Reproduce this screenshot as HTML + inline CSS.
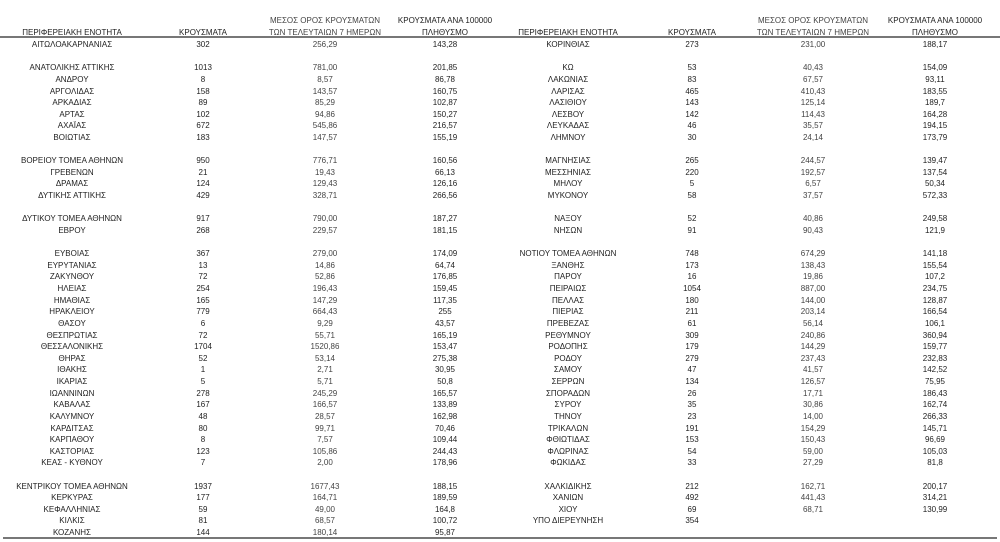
<!DOCTYPE html>
<html><head><meta charset="utf-8">
<style>
html,body{margin:0;padding:0;background:#fff;}
body{width:1000px;height:542px;position:relative;overflow:hidden;font-family:"Liberation Sans","DejaVu Sans",sans-serif;font-size:8px;color:#222;}
.r{position:absolute;left:0;width:1000px;height:12px;line-height:12px;margin-top:2px;}
.r span,.h span{position:absolute;width:140px;text-align:center;white-space:nowrap;}
.a{left:2px}.b{left:133px}.c{left:255px}.d{left:375px}
.e{left:498px}.f{left:622px}.g{left:743px}.k{left:865px}
.c,.g{color:#444}
.h{position:absolute;left:0;width:1000px;height:12px;line-height:12px;}
.line{position:absolute;left:0;width:1000px;height:2px;background:#777;}
</style></head><body>
<div class="h" style="top:15px"><span class="c">ΜΕΣΟΣ ΟΡΟΣ ΚΡΟΥΣΜΑΤΩΝ</span><span class="d">ΚΡΟΥΣΜΑΤΑ ΑΝΑ 100000</span><span class="g">ΜΕΣΟΣ ΟΡΟΣ ΚΡΟΥΣΜΑΤΩΝ</span><span class="k">ΚΡΟΥΣΜΑΤΑ ΑΝΑ 100000</span></div>
<div class="h" style="top:27px"><span class="a">ΠΕΡΙΦΕΡΕΙΑΚΗ ΕΝΟΤΗΤΑ</span><span class="b">ΚΡΟΥΣΜΑΤΑ</span><span class="c">ΤΩΝ ΤΕΛΕΥΤΑΙΩΝ 7 ΗΜΕΡΩΝ</span><span class="d">ΠΛΗΘΥΣΜΟ</span><span class="e">ΠΕΡΙΦΕΡΕΙΑΚΗ ΕΝΟΤΗΤΑ</span><span class="f">ΚΡΟΥΣΜΑΤΑ</span><span class="g">ΤΩΝ ΤΕΛΕΥΤΑΙΩΝ 7 ΗΜΕΡΩΝ</span><span class="k">ΠΛΗΘΥΣΜΟ</span></div>
<div class="line" style="top:36px"></div>

<div class="r" style="top:37.0px"><span class="a">ΑΙΤΩΛΟΑΚΑΡΝΑΝΙΑΣ</span><span class="b">302</span><span class="c">256,29</span><span class="d">143,28</span><span class="e">ΚΟΡΙΝΘΙΑΣ</span><span class="f">273</span><span class="g">231,00</span><span class="k">188,17</span></div>
<div class="r" style="top:60.2px"><span class="a">ΑΝΑΤΟΛΙΚΗΣ ΑΤΤΙΚΗΣ</span><span class="b">1013</span><span class="c">781,00</span><span class="d">201,85</span><span class="e">ΚΩ</span><span class="f">53</span><span class="g">40,43</span><span class="k">154,09</span></div>
<div class="r" style="top:71.9px"><span class="a">ΑΝΔΡΟΥ</span><span class="b">8</span><span class="c">8,57</span><span class="d">86,78</span><span class="e">ΛΑΚΩΝΙΑΣ</span><span class="f">83</span><span class="g">67,57</span><span class="k">93,11</span></div>
<div class="r" style="top:83.5px"><span class="a">ΑΡΓΟΛΙΔΑΣ</span><span class="b">158</span><span class="c">143,57</span><span class="d">160,75</span><span class="e">ΛΑΡΙΣΑΣ</span><span class="f">465</span><span class="g">410,43</span><span class="k">183,55</span></div>
<div class="r" style="top:95.1px"><span class="a">ΑΡΚΑΔΙΑΣ</span><span class="b">89</span><span class="c">85,29</span><span class="d">102,87</span><span class="e">ΛΑΣΙΘΙΟΥ</span><span class="f">143</span><span class="g">125,14</span><span class="k">189,7</span></div>
<div class="r" style="top:106.7px"><span class="a">ΑΡΤΑΣ</span><span class="b">102</span><span class="c">94,86</span><span class="d">150,27</span><span class="e">ΛΕΣΒΟΥ</span><span class="f">142</span><span class="g">114,43</span><span class="k">164,28</span></div>
<div class="r" style="top:118.3px"><span class="a">ΑΧΑΪΑΣ</span><span class="b">672</span><span class="c">545,86</span><span class="d">216,57</span><span class="e">ΛΕΥΚΑΔΑΣ</span><span class="f">46</span><span class="g">35,57</span><span class="k">194,15</span></div>
<div class="r" style="top:130.0px"><span class="a">ΒΟΙΩΤΙΑΣ</span><span class="b">183</span><span class="c">147,57</span><span class="d">155,19</span><span class="e">ΛΗΜΝΟΥ</span><span class="f">30</span><span class="g">24,14</span><span class="k">173,79</span></div>
<div class="r" style="top:153.2px"><span class="a">ΒΟΡΕΙΟΥ ΤΟΜΕΑ ΑΘΗΝΩΝ</span><span class="b">950</span><span class="c">776,71</span><span class="d">160,56</span><span class="e">ΜΑΓΝΗΣΙΑΣ</span><span class="f">265</span><span class="g">244,57</span><span class="k">139,47</span></div>
<div class="r" style="top:164.8px"><span class="a">ΓΡΕΒΕΝΩΝ</span><span class="b">21</span><span class="c">19,43</span><span class="d">66,13</span><span class="e">ΜΕΣΣΗΝΙΑΣ</span><span class="f">220</span><span class="g">192,57</span><span class="k">137,54</span></div>
<div class="r" style="top:176.4px"><span class="a">ΔΡΑΜΑΣ</span><span class="b">124</span><span class="c">129,43</span><span class="d">126,16</span><span class="e">ΜΗΛΟΥ</span><span class="f">5</span><span class="g">6,57</span><span class="k">50,34</span></div>
<div class="r" style="top:188.1px"><span class="a">ΔΥΤΙΚΗΣ ΑΤΤΙΚΗΣ</span><span class="b">429</span><span class="c">328,71</span><span class="d">266,56</span><span class="e">ΜΥΚΟΝΟΥ</span><span class="f">58</span><span class="g">37,57</span><span class="k">572,33</span></div>
<div class="r" style="top:211.3px"><span class="a">ΔΥΤΙΚΟΥ ΤΟΜΕΑ ΑΘΗΝΩΝ</span><span class="b">917</span><span class="c">790,00</span><span class="d">187,27</span><span class="e">ΝΑΞΟΥ</span><span class="f">52</span><span class="g">40,86</span><span class="k">249,58</span></div>
<div class="r" style="top:222.9px"><span class="a">ΕΒΡΟΥ</span><span class="b">268</span><span class="c">229,57</span><span class="d">181,15</span><span class="e">ΝΗΣΩΝ</span><span class="f">91</span><span class="g">90,43</span><span class="k">121,9</span></div>
<div class="r" style="top:246.2px"><span class="a">ΕΥΒΟΙΑΣ</span><span class="b">367</span><span class="c">279,00</span><span class="d">174,09</span><span class="e">ΝΟΤΙΟΥ ΤΟΜΕΑ ΑΘΗΝΩΝ</span><span class="f">748</span><span class="g">674,29</span><span class="k">141,18</span></div>
<div class="r" style="top:257.8px"><span class="a">ΕΥΡΥΤΑΝΙΑΣ</span><span class="b">13</span><span class="c">14,86</span><span class="d">64,74</span><span class="e">ΞΑΝΘΗΣ</span><span class="f">173</span><span class="g">138,43</span><span class="k">155,54</span></div>
<div class="r" style="top:269.4px"><span class="a">ΖΑΚΥΝΘΟΥ</span><span class="b">72</span><span class="c">52,86</span><span class="d">176,85</span><span class="e">ΠΑΡΟΥ</span><span class="f">16</span><span class="g">19,86</span><span class="k">107,2</span></div>
<div class="r" style="top:281.0px"><span class="a">ΗΛΕΙΑΣ</span><span class="b">254</span><span class="c">196,43</span><span class="d">159,45</span><span class="e">ΠΕΙΡΑΙΩΣ</span><span class="f">1054</span><span class="g">887,00</span><span class="k">234,75</span></div>
<div class="r" style="top:292.6px"><span class="a">ΗΜΑΘΙΑΣ</span><span class="b">165</span><span class="c">147,29</span><span class="d">117,35</span><span class="e">ΠΕΛΛΑΣ</span><span class="f">180</span><span class="g">144,00</span><span class="k">128,87</span></div>
<div class="r" style="top:304.3px"><span class="a">ΗΡΑΚΛΕΙΟΥ</span><span class="b">779</span><span class="c">664,43</span><span class="d">255</span><span class="e">ΠΙΕΡΙΑΣ</span><span class="f">211</span><span class="g">203,14</span><span class="k">166,54</span></div>
<div class="r" style="top:315.9px"><span class="a">ΘΑΣΟΥ</span><span class="b">6</span><span class="c">9,29</span><span class="d">43,57</span><span class="e">ΠΡΕΒΕΖΑΣ</span><span class="f">61</span><span class="g">56,14</span><span class="k">106,1</span></div>
<div class="r" style="top:327.5px"><span class="a">ΘΕΣΠΡΩΤΙΑΣ</span><span class="b">72</span><span class="c">55,71</span><span class="d">165,19</span><span class="e">ΡΕΘΥΜΝΟΥ</span><span class="f">309</span><span class="g">240,86</span><span class="k">360,94</span></div>
<div class="r" style="top:339.1px"><span class="a">ΘΕΣΣΑΛΟΝΙΚΗΣ</span><span class="b">1704</span><span class="c">1520,86</span><span class="d">153,47</span><span class="e">ΡΟΔΟΠΗΣ</span><span class="f">179</span><span class="g">144,29</span><span class="k">159,77</span></div>
<div class="r" style="top:350.7px"><span class="a">ΘΗΡΑΣ</span><span class="b">52</span><span class="c">53,14</span><span class="d">275,38</span><span class="e">ΡΟΔΟΥ</span><span class="f">279</span><span class="g">237,43</span><span class="k">232,83</span></div>
<div class="r" style="top:362.4px"><span class="a">ΙΘΑΚΗΣ</span><span class="b">1</span><span class="c">2,71</span><span class="d">30,95</span><span class="e">ΣΑΜΟΥ</span><span class="f">47</span><span class="g">41,57</span><span class="k">142,52</span></div>
<div class="r" style="top:374.0px"><span class="a">ΙΚΑΡΙΑΣ</span><span class="b">5</span><span class="c">5,71</span><span class="d">50,8</span><span class="e">ΣΕΡΡΩΝ</span><span class="f">134</span><span class="g">126,57</span><span class="k">75,95</span></div>
<div class="r" style="top:385.6px"><span class="a">ΙΩΑΝΝΙΝΩΝ</span><span class="b">278</span><span class="c">245,29</span><span class="d">165,57</span><span class="e">ΣΠΟΡΑΔΩΝ</span><span class="f">26</span><span class="g">17,71</span><span class="k">186,43</span></div>
<div class="r" style="top:397.2px"><span class="a">ΚΑΒΑΛΑΣ</span><span class="b">167</span><span class="c">166,57</span><span class="d">133,89</span><span class="e">ΣΥΡΟΥ</span><span class="f">35</span><span class="g">30,86</span><span class="k">162,74</span></div>
<div class="r" style="top:408.8px"><span class="a">ΚΑΛΥΜΝΟΥ</span><span class="b">48</span><span class="c">28,57</span><span class="d">162,98</span><span class="e">ΤΗΝΟΥ</span><span class="f">23</span><span class="g">14,00</span><span class="k">266,33</span></div>
<div class="r" style="top:420.5px"><span class="a">ΚΑΡΔΙΤΣΑΣ</span><span class="b">80</span><span class="c">99,71</span><span class="d">70,46</span><span class="e">ΤΡΙΚΑΛΩΝ</span><span class="f">191</span><span class="g">154,29</span><span class="k">145,71</span></div>
<div class="r" style="top:432.1px"><span class="a">ΚΑΡΠΑΘΟΥ</span><span class="b">8</span><span class="c">7,57</span><span class="d">109,44</span><span class="e">ΦΘΙΩΤΙΔΑΣ</span><span class="f">153</span><span class="g">150,43</span><span class="k">96,69</span></div>
<div class="r" style="top:443.7px"><span class="a">ΚΑΣΤΟΡΙΑΣ</span><span class="b">123</span><span class="c">105,86</span><span class="d">244,43</span><span class="e">ΦΛΩΡΙΝΑΣ</span><span class="f">54</span><span class="g">59,00</span><span class="k">105,03</span></div>
<div class="r" style="top:455.3px"><span class="a">ΚΕΑΣ - ΚΥΘΝΟΥ</span><span class="b">7</span><span class="c">2,00</span><span class="d">178,96</span><span class="e">ΦΩΚΙΔΑΣ</span><span class="f">33</span><span class="g">27,29</span><span class="k">81,8</span></div>
<div class="r" style="top:478.6px"><span class="a">ΚΕΝΤΡΙΚΟΥ ΤΟΜΕΑ ΑΘΗΝΩΝ</span><span class="b">1937</span><span class="c">1677,43</span><span class="d">188,15</span><span class="e">ΧΑΛΚΙΔΙΚΗΣ</span><span class="f">212</span><span class="g">162,71</span><span class="k">200,17</span></div>
<div class="r" style="top:490.2px"><span class="a">ΚΕΡΚΥΡΑΣ</span><span class="b">177</span><span class="c">164,71</span><span class="d">189,59</span><span class="e">ΧΑΝΙΩΝ</span><span class="f">492</span><span class="g">441,43</span><span class="k">314,21</span></div>
<div class="r" style="top:501.8px"><span class="a">ΚΕΦΑΛΛΗΝΙΑΣ</span><span class="b">59</span><span class="c">49,00</span><span class="d">164,8</span><span class="e">ΧΙΟΥ</span><span class="f">69</span><span class="g">68,71</span><span class="k">130,99</span></div>
<div class="r" style="top:513.4px"><span class="a">ΚΙΛΚΙΣ</span><span class="b">81</span><span class="c">68,57</span><span class="d">100,72</span><span class="e">ΥΠΟ ΔΙΕΡΕΥΝΗΣΗ</span><span class="f">354</span></div>
<div class="r" style="top:525.0px"><span class="a">ΚΟΖΑΝΗΣ</span><span class="b">144</span><span class="c">180,14</span><span class="d">95,87</span></div>

<div class="line" style="top:537px;left:3px;width:994px"></div>
</body></html>
